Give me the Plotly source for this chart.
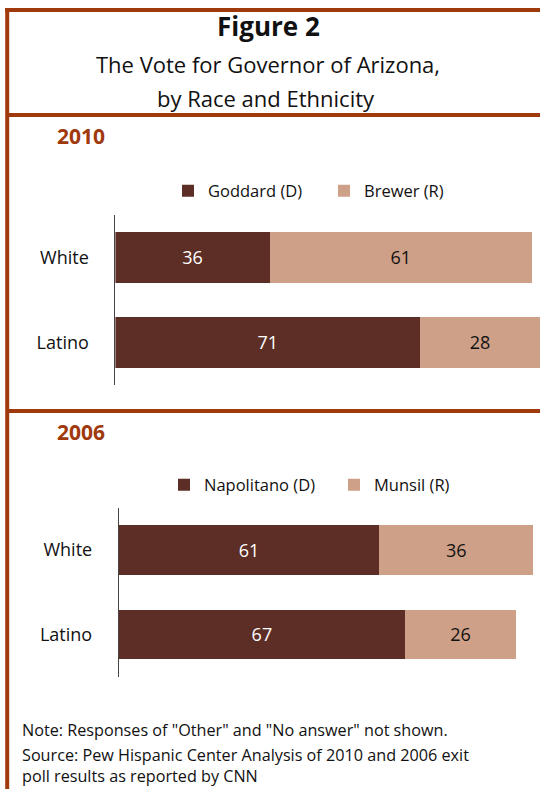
import plotly.graph_objects as go

# ---- data ----
groups = ["White", "Latino"]
dem_2010 = [36, 71]
rep_2010 = [61, 28]
dem_2006 = [61, 67]
rep_2006 = [36, 26]
names_2010 = ["Goddard (D)", "Brewer (R)"]
names_2006 = ["Napolitano (D)", "Munsil (R)"]

W, H = 540, 789
DARK = "#5C2E25"
LIGHT = "#CEA087"
FRAME = "#A0390B"
FONT = "Open Sans"

def px(x):
    return x / W

def py(y):
    return 1 - y / H

fig = go.Figure()

def add_pair(dem, rep, names, xa, ya, legend):
    fig.add_trace(go.Bar(
        y=groups, x=dem, orientation="h", name=names[0],
        marker=dict(color=DARK, line=dict(width=0)),
        text=dem, textposition="inside", insidetextanchor="middle",
        textangle=0, textfont=dict(color="white", size=18, family=FONT),
        xaxis=xa, yaxis=ya, legend=legend, hoverinfo="skip"))
    fig.add_trace(go.Bar(
        y=groups, x=rep, orientation="h", name=names[1],
        marker=dict(color=LIGHT, line=dict(width=0)),
        text=rep, textposition="inside", insidetextanchor="middle",
        textangle=0, textfont=dict(color="#111111", size=18, family=FONT),
        xaxis=xa, yaxis=ya, legend=legend, hoverinfo="skip"))

add_pair(dem_2010, rep_2010, names_2010, "x", "y", "legend")
add_pair(dem_2006, rep_2006, names_2006, "x2", "y2", "legend2")

xcommon = dict(visible=False, showgrid=False, zeroline=False, fixedrange=True)
ycommon = dict(showgrid=False, zeroline=False, showline=True, linecolor="#444444",
               linewidth=1, ticks="", tickfont=dict(size=18, color="#111111", family=FONT),
               ticklabelstandoff=22, range=[1.5, -0.5], type="category", fixedrange=True)

fig.update_layout(
    width=W, height=H,
    margin=dict(l=0, r=0, t=0, b=0),
    paper_bgcolor="white", plot_bgcolor="white",
    barmode="stack", bargap=0.41,
    font=dict(family=FONT, color="#111111"),
    xaxis=dict(domain=[px(115.4), 1], range=[0, 98.97], **xcommon),
    yaxis=dict(domain=[py(385), py(215)], anchor="x", **ycommon),
    xaxis2=dict(domain=[px(118.8), 1], range=[0, 98.6], anchor="y2", **xcommon),
    yaxis2=dict(domain=[py(676.5), py(508)], anchor="x2", **ycommon),
    legend=dict(orientation="h", x=px(168), xanchor="left", y=py(191), yanchor="middle",
                font=dict(size=16.5, family=FONT, color="#111111"),
                entrywidth=111, entrywidthmode="pixels", bgcolor="rgba(0,0,0,0)",
                traceorder="normal"),
    legend2=dict(orientation="h", x=px(164), xanchor="left", y=py(485), yanchor="middle",
                 font=dict(size=16.5, family=FONT, color="#111111"),
                 entrywidth=125, entrywidthmode="pixels", bgcolor="rgba(0,0,0,0)",
                 traceorder="normal"),
    showlegend=True,
)

# frame lines
line = dict(color=FRAME, width=4)
fig.add_shape(type="line", xref="paper", yref="paper", x0=px(7.2), x1=px(7.2), y0=py(8), y1=0, line=line)
fig.add_shape(type="line", xref="paper", yref="paper", x0=px(5.2), x1=1, y0=py(10), y1=py(10), line=line)
fig.add_shape(type="line", xref="paper", yref="paper", x0=px(7.2), x1=1, y0=py(115), y1=py(115), line=line)
fig.add_shape(type="line", xref="paper", yref="paper", x0=px(7.2), x1=1, y0=py(411), y1=py(411), line=line)

def ann(text, x, y, size, xanchor="center", color="#111111", bold=False):
    if bold:
        text = "<b>" + text + "</b>"
    fig.add_annotation(text=text, x=px(x), y=py(y), xref="paper", yref="paper",
                       xanchor=xanchor, yanchor="middle", showarrow=False,
                       font=dict(size=size, color=color, family=FONT))

ann("Figure 2", 268, 26, 26, bold=True)
ann("The Vote for Governor of Arizona,", 268, 64, 22)
ann("by Race and Ethnicity", 266, 98, 22)
ann("2010", 55, 136, 21, xanchor="left", color=FRAME, bold=True)
ann("2006", 55, 432, 21, xanchor="left", color=FRAME, bold=True)
ann("Note: Responses of \"Other\" and \"No answer\" not shown.", 19.6, 730, 16.2, xanchor="left")
ann("Source: Pew Hispanic Center Analysis of 2010 and 2006 exit", 19.6, 755, 16.2, xanchor="left")
ann("poll results as reported by CNN", 19.6, 776, 16.2, xanchor="left")

fig.write_html("out.html",
               config={"displayModeBar": False},
               post_script="document.body.style.margin='0';document.body.style.padding='0';")
